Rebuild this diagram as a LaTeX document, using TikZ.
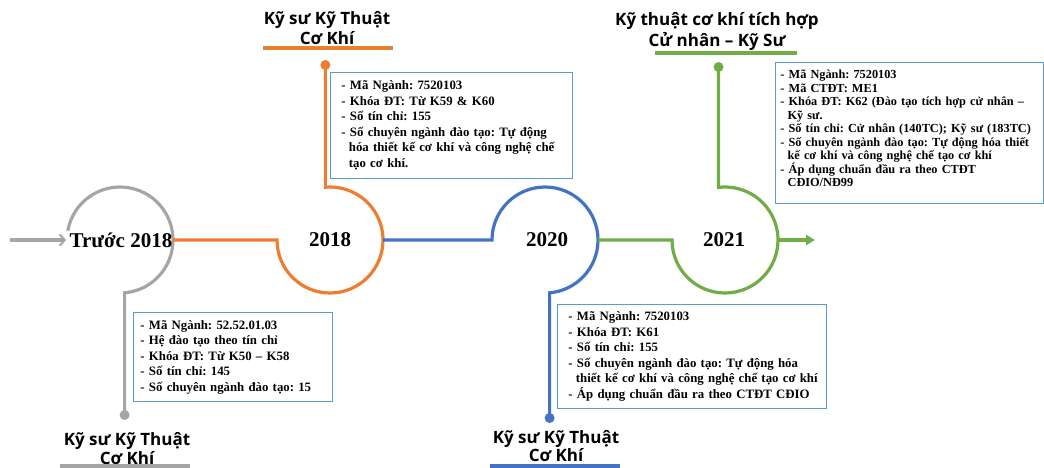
\documentclass[tikz,border=0pt]{standalone}
\usepackage{fontspec}
\setmainfont{Liberation Serif}
\newfontfamily\headfont{Open Sans}
\usetikzlibrary{arrows.meta,calc}
\definecolor{cgray}{HTML}{A5A5A5}
\definecolor{corange}{HTML}{ED7D31}
\definecolor{cblue}{HTML}{4472C4}
\definecolor{cgreen}{HTML}{70AD47}
\definecolor{cframe}{HTML}{5B9BD5}
\newcommand{\cindent}{\hspace*{0.583em}}
\frenchspacing
\begin{document}
\begin{tikzpicture}[x=1pt,y=-1pt,
 tl/.style={line width=3.2pt},
 dotnode/.style={circle,inner sep=0pt,minimum size=10pt},
 year/.style={font=\fontsize{21}{24}\selectfont\bfseries, inner sep=0pt},
 frame/.style={draw=cframe,line width=0.9pt,fill=white,anchor=north west,inner sep=0pt},
 info/.style={align=left,inner sep=0pt,font=\fontsize{12.8}{15.5}\selectfont\bfseries\frenchspacing},
 head/.style={align=center,inner sep=0pt,font=\headfont\bfseries\fontsize{17}{20}\selectfont},
 bar/.style={line width=3.5pt}]
\useasboundingbox (0,0) rectangle (1044,467);

% circle centres and connection points
\coordinate (c0) at (120,240);
\coordinate (c1) at (330,240);
\coordinate (c2) at (545,240);
\coordinate (c3) at (725,240);
\coordinate (in) at (10,240);
\coordinate (c0w) at (66,240);
\coordinate (c0e) at (173,240);
\coordinate (c1w) at (277,240);
\coordinate (c1e) at (383,240);
\coordinate (c2w) at (492,240);
\coordinate (c2e) at (598,240);
\coordinate (c3w) at (672,240);
\coordinate (c3e) at (778,240);
\coordinate (out) at (815,240);

% dots
\node[dotnode,fill=cgray] (d0) at (124.62,415) {};
\node[dotnode,fill=corange] (d1) at (325.38,65) {};
\node[dotnode,fill=cblue] (d2) at (549.62,418) {};
\node[dotnode,fill=cgreen] (d3) at (718.54,67) {};

% timeline
\draw[tl,cgray,-{Straight Barb[length=5pt,width=11pt,line width=2pt]}] (in) -- (c0w);
\draw[tl,cgray] ($(c0)+(190:53)$) arc[start angle=190,end angle=445,radius=53] -- (d0.center);
\draw[tl,corange] (c0e) -- (c1w) arc[start angle=180,end angle=-95,radius=53] -- (d1.center);
\draw[tl,cblue] (c1e) -- (c2w) arc[start angle=180,end angle=445,radius=53] -- (d2.center);
\draw[tl,cgreen] (c2e) -- (c3w) arc[start angle=180,end angle=-97,radius=53] -- (d3.center);
\draw[tl,cgreen,-{Triangle[length=9pt,width=10pt]}] (c3e) -- (out);

% years
\node[year] (y0) at (121,240) {Trước 2018};
\node[year] (y1) at (330,240) {2018};
\node[year] (y2) at (547,240) {2020};
\node[year] (y3) at (724,240) {2021};

% headers
\node[head] (h1) at (327,28) {Kỹ sư Kỹ Thuật\\Cơ Khí};
\draw[bar,corange] (263,48) -- (393,48);
\node[head,font=\headfont\bfseries\fontsize{17}{21}\selectfont] (h3) at (717,32) {Kỹ thuật cơ khí tích hợp\\Cử nhân – Kỹ Sư};
\draw[bar,cgreen] (655,53) -- (797,53);
\node[head,font=\headfont\bfseries\fontsize{17}{19}\selectfont] (h0) at (127,449) {Kỹ sư Kỹ Thuật\\Cơ Khí};
\draw[bar,cgray] (60,466) -- (190,466);
\node[head,font=\headfont\bfseries\fontsize{17}{18}\selectfont] (h2) at (556,446) {Kỹ sư Kỹ Thuật\\Cơ Khí};
\draw[bar,cblue] (490,466) -- (620,466);

% info boxes
\node[frame,minimum width=242,minimum height=106] (b1) at (330,72) {};
\node[info,text width=222pt] (t1) at ([xshift=1pt]b1.center) {- Mã Ngành: 7520103\\- Khóa ĐT: Từ K59 \& K60\\- Số tín chỉ: 155\\- Số chuyên ngành đào tạo: Tự động\\\cindent hóa thiết kế cơ khí và công nghệ chế\\\cindent tạo cơ khí.};

\node[frame,minimum width=199,minimum height=89] (b0) at (133,312) {};
\node[info,text width=185pt] (t0) at (b0.center) {- Mã Ngành: 52.52.01.03\\- Hệ đào tạo theo tín chỉ\\- Khóa ĐT: Từ K50 – K58\\- Số tín chỉ: 145\\- Số chuyên ngành đào tạo: 15};

\node[frame,minimum width=269,minimum height=104] (b2) at (557,304) {};
\node[info,text width=251pt] (t2) at ([xshift=2pt]b2.center) {- Mã Ngành: 7520103\\- Khóa ĐT: K61\\- Số tín chỉ: 155\\- Số chuyên ngành đào tạo: Tự động hóa\\\cindent thiết kế cơ khí và công nghệ chế tạo cơ khí\\- Áp dụng chuẩn đầu ra theo CTĐT CĐIO};

\node[frame,minimum width=268,minimum height=141] (b3) at (775,62) {};
\node[info,text width=258pt,font=\fontsize{12.3}{13.5}\selectfont\bfseries\frenchspacing] (t3) at ([yshift=4.5pt]b3.center) {- Mã Ngành: 7520103\\- Mã CTĐT: ME1\\- Khóa ĐT: K62 (Đào tạo tích hợp cử nhân –\\\cindent Kỹ sư.\\- Số tín chỉ: Cử nhân (140TC); Kỹ sư (183TC)\\- Số chuyên ngành đào tạo: Tự động hóa thiết\\\cindent kế cơ khí và công nghệ chế tạo cơ khí\\- Áp dụng chuẩn đầu ra theo CTĐT\\\cindent CĐIO/NĐ99};
\end{tikzpicture}
\end{document}
